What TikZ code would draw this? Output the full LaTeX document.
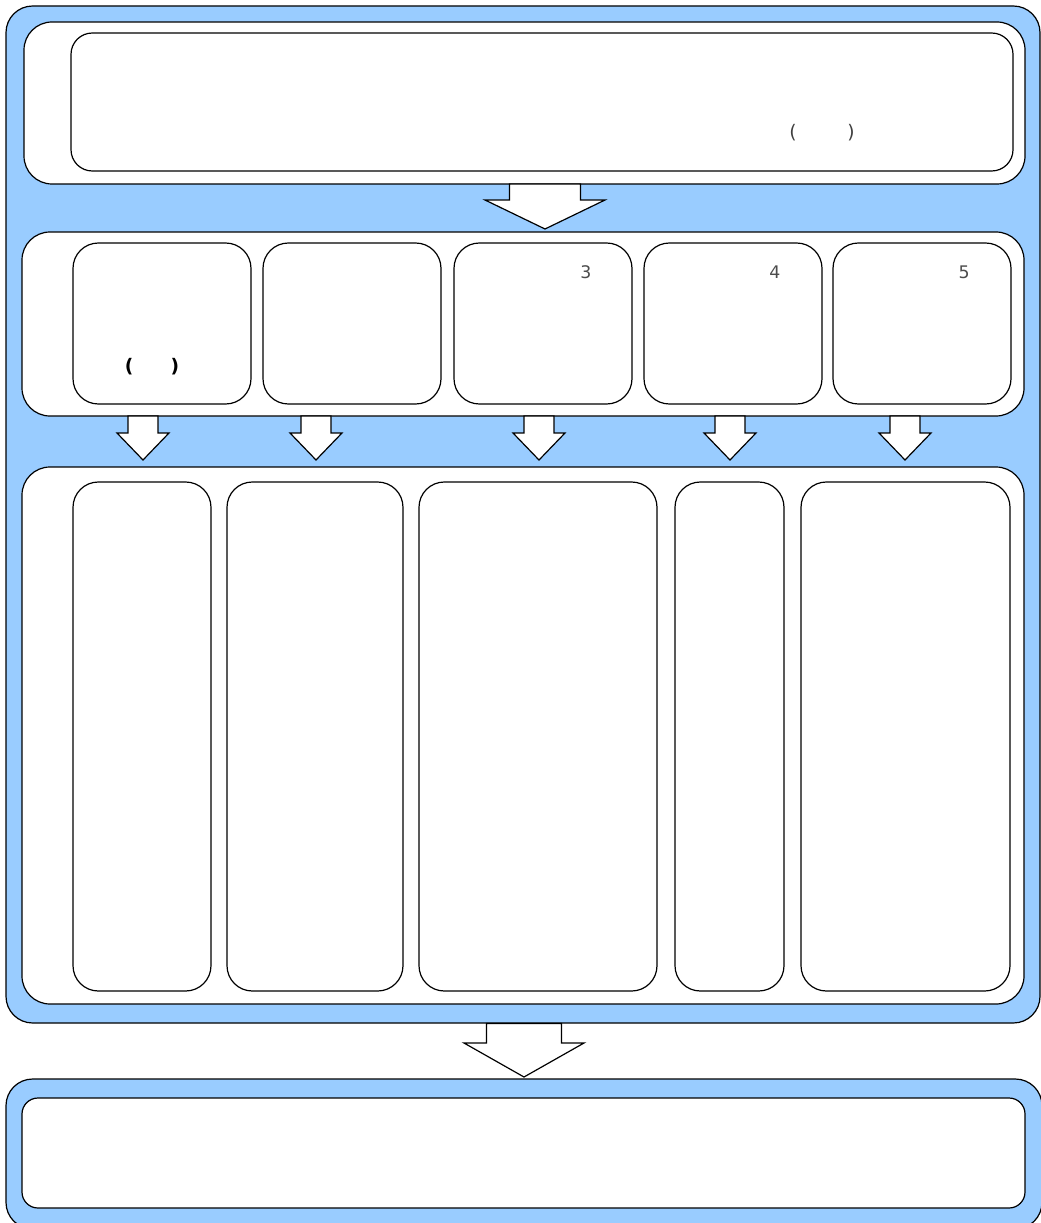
\documentclass[tikz,border=0pt]{standalone}
\usepackage{fontspec}
\setmainfont{DejaVu Sans}
\definecolor{skyblue}{HTML}{99CCFF}

\begin{document}
\begin{tikzpicture}[
  x=0.75pt, y=-0.75pt,
  every node/.style={inner sep=0pt, outer sep=0pt},
  frame/.style={draw=black, line width=0.9pt, fill=skyblue, rounded corners=20pt, anchor=north west},
  panel/.style={draw=black, line width=0.9pt, fill=white, rounded corners=21pt, anchor=north west},
  card/.style={draw=black, line width=0.9pt, fill=white, rounded corners=19pt, anchor=north west},
  area/.style 2 args={minimum width={(#1)*0.75pt}, minimum height={(#2)*0.75pt}},
  blockarrow/.style={draw=black, line width=0.9pt, fill=white, line join=miter},
  num/.style={font=\fontsize{13}{15}\selectfont, text=black!70},
  paren/.style={font=\fontsize{14}{16}\selectfont}
]
\useasboundingbox (0,0) rectangle (1041,1223);

% Blue backgrounds
\node[frame, area={1034}{1017}] (frame) at (6,6) {};
\node[frame, area={1036}{150}] (result) at (6,1079) {};

% Top stage
\node[panel, area={1001}{162}] (stage) at (24,22) {};
\node[card, rounded corners=16pt, area={942}{138}] (goal) at (71,33) {};
\node[paren, text=black!75] (goalparen) at (822,133) {(\hspace{38pt})};

% Row of five steps
\node[panel, area={1002}{184}] (steps) at (22,232) {};
\foreach \x [count=\i] in {73,263,454,644,833}
  \node[card, area={178}{161}] (s\i) at (\x,243) {};
\node[paren, font=\fontsize{14}{16}\selectfont\bfseries] (sparen) at (152,367) {(\hspace{28pt})};
\node[num] (n3) at (586,272) {3};
\node[num] (n4) at (775,272) {4};
\node[num] (n5) at (964,272) {5};

% Tall columns
\node[panel, area={1002}{537}] (detail) at (22,467) {};
\foreach \x/\w [count=\i] in {73/138, 227/176, 419/238, 675/109, 801/209}
  \node[card, area={\w}{509}] (d\i) at (\x,482) {};

% Bottom summary
\node[card, rounded corners=12pt, area={1003}{110}] (summary) at (22,1098) {};

% Block arrows
\draw[blockarrow] (509.5,184) -- (509.5,200) -- (485,200) -- (545,229)
  -- (605,200) -- (580.5,200) -- (580.5,184) -- cycle;
\foreach \x in {143,316,539,730,905}
  \draw[blockarrow] (\x-15,416) -- (\x-15,433) -- (\x-26,433) -- (\x,460)
    -- (\x+26,433) -- (\x+15,433) -- (\x+15,416) -- cycle;
\draw[blockarrow] (486.5,1023.5) -- (486.5,1043) -- (464,1043) -- (524,1077)
  -- (584,1043) -- (561.5,1043) -- (561.5,1023.5) -- cycle;

\end{tikzpicture}
\end{document}
